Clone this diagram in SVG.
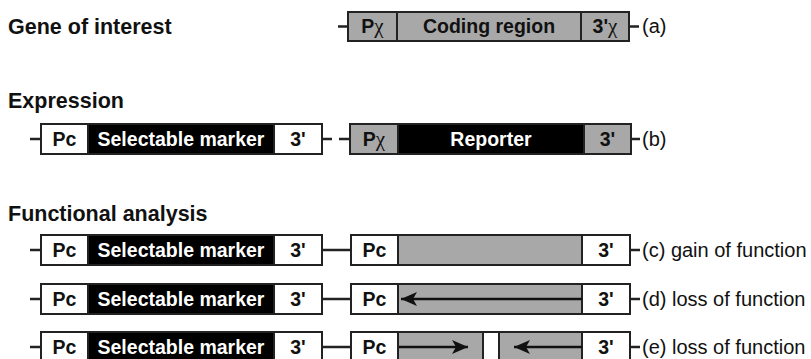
<svg xmlns="http://www.w3.org/2000/svg" width="811" height="359" viewBox="0 0 811 359">
<defs>
<style>
.title{font-family:"Liberation Sans",Arial,sans-serif;font-weight:bold;font-size:21.5px;fill:#111}
.bt{font-family:"Liberation Sans",Arial,sans-serif;font-weight:bold;font-size:19.5px;fill:#111;text-anchor:middle}
.wt{font-family:"Liberation Sans",Arial,sans-serif;font-weight:bold;font-size:19.5px;fill:#fff;text-anchor:middle}
.lab{font-family:"Liberation Sans",Arial,sans-serif;font-size:20px;fill:#111}
.chi{font-family:"Liberation Serif","Times New Roman",serif;font-weight:normal;font-size:21px}
.g{fill:#a8a8a8;stroke:#222;stroke-width:2}
.w{fill:#fff;stroke:#222;stroke-width:2}
.k{fill:#000;stroke:#222;stroke-width:2}
.ln{stroke:#222;stroke-width:2.5;fill:none}
.ar{stroke:#111;stroke-width:2.6;fill:none;marker-end:url(#ah)}
</style>
<marker id="ah" markerUnits="userSpaceOnUse" markerWidth="18" markerHeight="14" refX="16" refY="7" orient="auto">
<path d="M0,0 L16,7 L0,14 L4,7 Z" fill="#111"/>
</marker>
</defs>
<rect width="811" height="359" fill="#fff"/>
<text class="title" x="8" y="34">Gene of interest</text>
<text class="title" x="8" y="108">Expression</text>
<text class="title" x="8" y="221">Functional analysis</text>

<g id="connectors">
<line class="ln" x1="338" y1="26.5" x2="348" y2="26.5"/>
<line class="ln" x1="629" y1="26.5" x2="639" y2="26.5"/>
<line class="ln" x1="30" y1="139" x2="41" y2="139"/>
<line class="ln" x1="322" y1="139" x2="332" y2="139"/>
<line class="ln" x1="339" y1="139" x2="350" y2="139"/>
<line class="ln" x1="631" y1="139" x2="640" y2="139"/>
<line class="ln" x1="30" y1="250" x2="41" y2="250"/>
<line class="ln" x1="322" y1="250" x2="351" y2="250"/>
<line class="ln" x1="630" y1="250" x2="640" y2="250"/>
<line class="ln" x1="30" y1="299" x2="41" y2="299"/>
<line class="ln" x1="322" y1="299" x2="351" y2="299"/>
<line class="ln" x1="630" y1="299" x2="640" y2="299"/>
<line class="ln" x1="30" y1="347" x2="41" y2="347"/>
<line class="ln" x1="322" y1="347" x2="351" y2="347"/>
<line class="ln" x1="630" y1="347" x2="640" y2="347"/>
</g>

<g id="gene-a">
<rect class="g" x="348" y="12" width="49" height="29"/>
<rect class="g" x="397" y="12" width="184" height="29"/>
<rect class="g" x="581" y="12" width="48" height="29"/>
<text class="bt" x="372.5" y="33">P<tspan class="chi">χ</tspan></text>
<text class="bt" x="489" y="33">Coding region</text>
<text class="bt" x="605" y="33">3'<tspan class="chi">χ</tspan></text>
<text class="lab" x="642" y="33">(a)</text>
</g>

<g id="marker-b">
<rect class="w" x="41" y="124" width="47" height="30"/>
<rect class="k" x="88" y="124" width="186" height="30"/>
<rect class="w" x="274" y="124" width="48" height="30"/>
<text class="bt" x="64.5" y="146">Pc</text>
<text class="wt" x="181" y="146">Selectable marker</text>
<text class="bt" x="298" y="146">3'</text>
</g>
<g id="reporter-b">
<rect class="g" x="350" y="124" width="48" height="30"/>
<rect class="k" x="398" y="124" width="186" height="30"/>
<rect class="g" x="584" y="124" width="47" height="30"/>
<text class="bt" x="374" y="146">P<tspan class="chi">χ</tspan></text>
<text class="wt" x="491" y="146">Reporter</text>
<text class="bt" x="607.5" y="146">3'</text>
<text class="lab" x="642" y="146">(b)</text>
</g>

<g id="marker-c">
<rect class="w" x="41" y="235" width="47" height="30"/>
<rect class="k" x="88" y="235" width="186" height="30"/>
<rect class="w" x="274" y="235" width="48" height="30"/>
<text class="bt" x="64.5" y="257">Pc</text>
<text class="wt" x="181" y="257">Selectable marker</text>
<text class="bt" x="298" y="257">3'</text>
</g>
<g id="construct-c">
<rect class="w" x="351" y="235" width="47" height="30"/>
<rect class="g" x="398" y="235" width="184" height="30"/>
<rect class="w" x="582" y="235" width="48" height="30"/>
<text class="bt" x="374.5" y="257">Pc</text>
<text class="bt" x="606" y="257">3'</text>
<text class="lab" x="642" y="257">(c) gain of function</text>
</g>

<g id="marker-d">
<rect class="w" x="41" y="284" width="47" height="30"/>
<rect class="k" x="88" y="284" width="186" height="30"/>
<rect class="w" x="274" y="284" width="48" height="30"/>
<text class="bt" x="64.5" y="306">Pc</text>
<text class="wt" x="181" y="306">Selectable marker</text>
<text class="bt" x="298" y="306">3'</text>
</g>
<g id="construct-d">
<rect class="w" x="351" y="284" width="47" height="30"/>
<rect class="g" x="398" y="284" width="184" height="30"/>
<rect class="w" x="582" y="284" width="48" height="30"/>
<line class="ar" x1="582" y1="299" x2="401" y2="299"/>
<text class="bt" x="374.5" y="306">Pc</text>
<text class="bt" x="606" y="306">3'</text>
<text class="lab" x="642" y="306">(d) loss of function</text>
</g>

<g id="marker-e">
<rect class="w" x="41" y="332" width="47" height="30"/>
<rect class="k" x="88" y="332" width="186" height="30"/>
<rect class="w" x="274" y="332" width="48" height="30"/>
<text class="bt" x="64.5" y="354">Pc</text>
<text class="wt" x="181" y="354">Selectable marker</text>
<text class="bt" x="298" y="354">3'</text>
</g>
<g id="construct-e">
<rect class="w" x="351" y="332" width="47" height="30"/>
<rect class="g" x="398" y="332" width="85" height="30"/>
<rect class="w" x="483" y="332" width="16" height="30"/>
<rect class="g" x="499" y="332" width="83" height="30"/>
<rect class="w" x="582" y="332" width="48" height="30"/>
<line class="ar" x1="399" y1="347" x2="468" y2="347"/>
<line class="ar" x1="582" y1="347" x2="514" y2="347"/>
<text class="bt" x="374.5" y="354">Pc</text>
<text class="bt" x="606" y="354">3'</text>
<text class="lab" x="642" y="354">(e) loss of function</text>
</g>
</svg>
